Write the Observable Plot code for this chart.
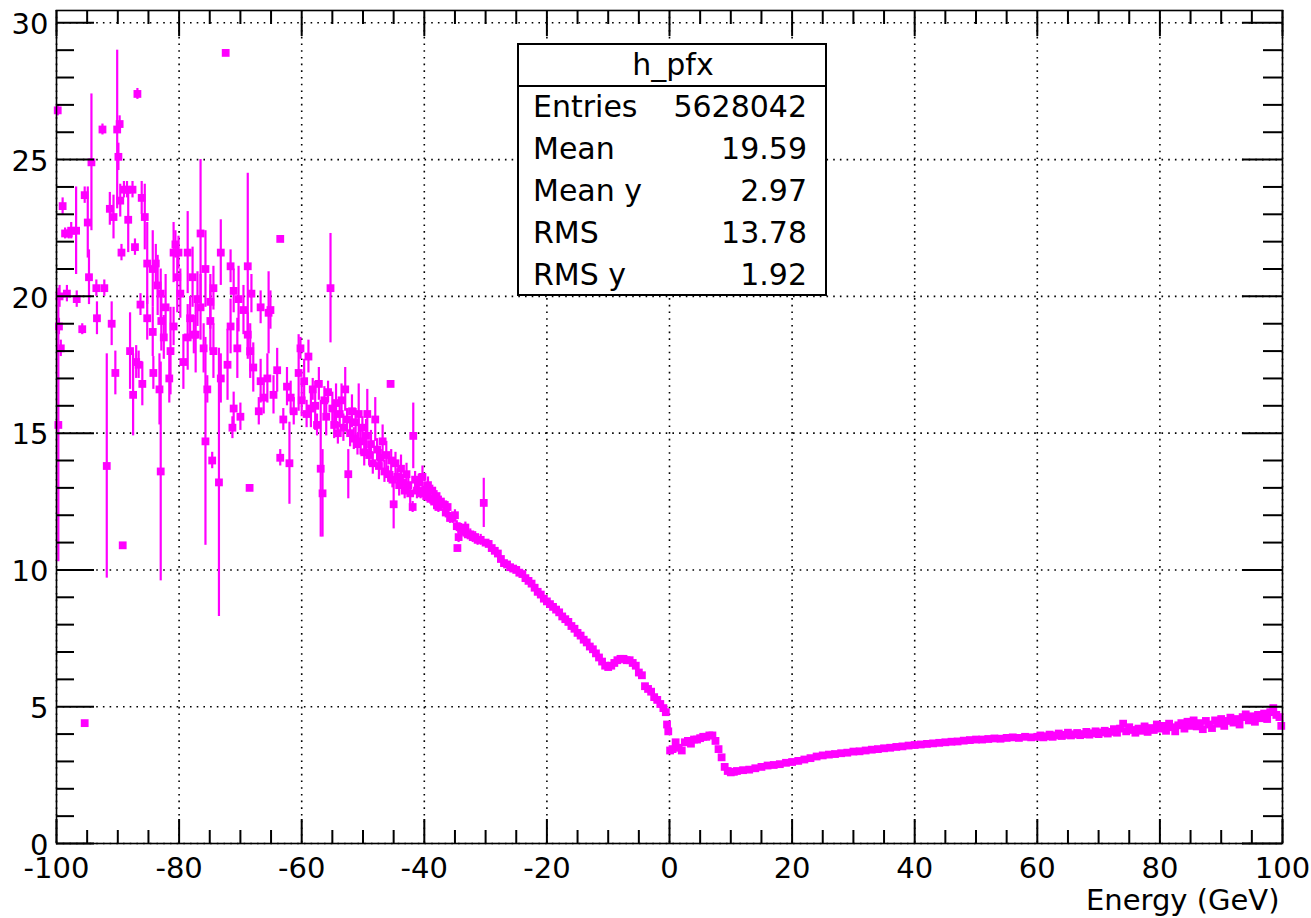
<!DOCTYPE html>
<html><head><meta charset="utf-8">
<script src="https://cdn.jsdelivr.net/npm/d3@7"></script>
<script src="https://cdn.jsdelivr.net/npm/@observablehq/plot@0.6"></script>
<style>
html,body{margin:0;padding:0;background:#fff;}
#chart{position:relative;width:1311px;height:918px;}
</style></head><body><div id="chart"></div>
<script>
// ---- profile bins with large spread (E, mean y, error) ----
const noisyE = [
 -99.8,-99.7,-99.6,-99.5,-99.3,-99.0,-98.6,-98.3,-98.0,-97.6,
 -96.8,-96.7,-95.8,-95.4,-95.4,-94.9,-94.7,-94.3,-93.5,-93.4,
 -92.5,-92.2,-91.8,-91.3,-91.0,-90.7,-90.4,-90.1,-89.9,-89.7,
 -89.6,-89.4,-89.2,-89.0,-88.5,-88.3,-88.0,-87.6,-87.5,-87.2,
 -87.0,-86.8,-86.6,-86.3,-86.1,-86.0,-85.6,-85.2,-85.2,-84.3,
 -84.3,-84.2,-83.8,-83.5,-83.2,-83.0,-83.0,-82.9,-82.5,-82.2,
 -81.6,-81.4,-80.9,-80.9,-80.6,-80.3,-80.1,-79.8,-79.3,-78.6,
 -78.6,-78.2,-77.8,-77.6,-77.3,-77.0,-76.5,-76.5,-76.0,-75.7,
 -75.7,-75.4,-74.9,-74.9,-74.6,-74.4,-74.4,-73.5,-73.2,-73.2,
 -72.4,-72.1,-71.6,-71.6,-71.3,-71.1,-71.1,-70.5,-70.3,-70.0,
 -69.5,-68.8,-68.8,-68.5,-68.4,-68.2,-67.9,-67.0,-66.7,-66.7,
 -66.2,-65.6,-65.4,-65.1,-64.6,-64.0,-63.5,-63.5,-63.0,-62.4,
 -62.0,-61.8,-61.3,-60.5,-60.2,-60.0,
 -59.6,-59.2,-58.9,-58.5,-58.2,-57.8,-57.5,-57.2,-56.9,-56.6,
 -56.3,-56.0,-55.7,-55.3,-55.0,-54.7,-54.4,-54.1,-53.8,-53.5,
 -53.2,-52.9,-52.6,-52.4,-52.1,-51.8,-51.5,-51.2,-50.9,-50.7,
 -50.4,-50.1,-49.8,-49.5,-49.3,-49.0,-48.7,-48.4,-48.0,-47.7,
 -47.4,-47.1,-46.8,-46.5,-46.2,-45.9,-45.5,-45.4,-45.2,-45.0,
 -44.7,-44.4,-44.1,-43.8,-43.5,-43.2,-42.9,-42.6,-42.3,-41.9,
 -41.8,-41.5,-41.2,-40.9,-40.6,-40.3,-40.0,-39.7,-39.4,-39.0,
 -38.7,-38.4,-38.0,-37.7,-37.3,-36.9,-36.5,-36.2,-35.8,-35.4,
 -35.0,-34.7,-34.6,-34.4,-34.0,-33.6,-33.3,-32.9,-32.5,-32.1,
 -31.7,-31.3,-30.8,-30.3,-30.0
];
const noisyY = [
 26.8,15.3,18.9,20.0,18.1,23.3,22.3,20.1,22.3,22.4,
 22.4,19.9,18.8,23.7,4.4,22.7,20.7,24.9,20.3,19.2,
 26.1,20.3,13.8,23.2,19.0,22.9,17.2,26.1,25.1,26.3,
 23.5,21.6,10.9,23.9,23.9,22.8,18.0,23.9,16.4,21.8,
 17.6,27.4,17.5,19.7,23.6,16.8,22.9,21.2,19.2,21.0,
 18.7,17.2,21.2,20.4,16.6,13.6,20.1,19.1,18.5,19.6,
 17.0,18.0,21.6,18.9,21.9,20.7,21.6,20.1,17.6,21.6,
 18.5,19.2,20.7,18.6,18.6,19.9,22.3,19.6,18.1,21.0,
 14.7,16.6,19.8,19.1,14.0,20.3,18.0,13.2,21.6,17.0,
 28.9,17.5,21.1,18.9,15.2,20.2,15.9,18.1,19.9,15.6,
 19.5,21.1,18.6,13.0,18.0,20.1,17.4,15.8,19.6,16.9,
 16.3,17.0,19.4,19.5,16.4,17.3,22.1,14.1,15.5,16.7,
 13.9,16.3,15.8,17.2,18.1,16.2,
 16.9,15.7,17.8,15.9,16.6,16.0,15.3,16.8,13.7,12.8,
 16.2,15.6,16.5,20.3,15.9,15.3,16.1,15.0,15.7,16.2,
 15.2,16.6,15.5,13.5,15.0,15.8,14.8,15.4,14.6,15.7,
 14.7,15.2,14.3,14.9,15.7,14.2,14.6,13.9,15.5,14.4,
 13.8,14.1,14.7,13.6,14.2,13.5,16.8,14.0,13.3,12.4,
 13.9,13.4,13.1,13.7,13.2,12.9,13.5,13.1,12.8,12.3,
 14.9,13.3,12.9,13.2,12.8,13.4,12.9,12.7,13.1,12.6,
 12.9,12.5,12.7,12.3,12.5,12.4,12.1,12.3,11.9,11.9,
 12.0,11.6,10.8,11.2,11.5,11.4,11.55,11.3,11.3,11.2,
 11.2,11.1,11.1,12.45,11.0
];
const noisyErr = [
 0.2,5.0,0.3,0.4,0.3,0.3,0.2,0.3,0.2,0.3,
 1.6,0.3,0.2,0.3,0.1,1.3,1.0,2.5,0.3,0.6,
 0.2,0.3,4.1,0.6,0.8,0.8,0.8,2.9,0.5,0.3,
 0.6,0.3,0.1,0.3,0.3,1.2,1.4,0.3,1.5,0.3,
 0.6,0.2,0.5,0.4,0.6,0.8,1.2,1.5,0.8,1.4,
 0.9,0.6,0.7,1.1,1.3,4.0,0.9,1.1,0.8,1.2,
 0.9,1.6,1.1,0.7,0.5,1.3,0.6,0.9,1.0,1.5,
 1.2,0.8,1.1,0.7,1.4,1.0,2.7,1.2,0.9,1.4,
 3.8,0.5,1.0,1.1,0.3,0.8,1.0,4.9,1.2,0.9,
 0.1,1.3,0.6,1.0,0.4,0.8,0.6,1.1,1.2,0.5,
 0.9,3.4,0.8,0.1,1.0,0.7,0.9,0.5,0.6,0.8,
 0.6,0.9,1.5,0.7,0.7,0.8,0.1,0.3,0.4,0.7,
 1.5,0.6,0.5,1.4,0.4,0.6,
 0.8,0.5,0.6,0.7,0.4,0.9,0.4,0.6,2.5,1.6,
 0.5,0.7,0.4,2.0,0.6,0.5,0.7,0.4,0.5,0.6,
 0.5,0.8,0.4,0.9,0.5,0.6,0.4,0.5,0.4,1.1,
 0.5,0.4,0.5,0.6,0.9,0.4,0.5,0.4,0.8,0.4,
 0.5,0.3,0.6,0.4,0.5,0.3,0.1,0.4,0.3,0.9,
 0.4,0.3,0.4,0.5,0.3,0.3,0.4,0.3,0.4,0.2,
 1.2,0.3,0.3,0.3,0.2,0.4,0.3,0.2,0.3,0.2,
 0.2,0.3,0.2,0.2,0.2,0.2,0.2,0.2,0.2,0.2,
 0.2,0.2,0.1,0.2,0.2,0.2,0.2,0.2,0.2,0.2,
 0.2,0.2,0.2,0.9,0.1
];
// ---- profile bins with negligible errors ----
const smoothE = [
 -29.5,-29.0,-28.5,-28.0,-27.5,-27.0,-26.5,-26.0,-25.5,-25.0,
 -24.5,-24.0,-23.5,-23.0,-22.5,-22.0,-21.5,-21.0,-20.5,-20.0,
 -19.5,-19.0,-18.5,-18.0,-17.5,-17.0,-16.5,-16.0,-15.5,-15.0,
 -14.5,-14.0,-13.5,-13.0,-12.5,-12.0,-11.5,-11.0,-10.5,-10.0,
 -9.5,-9.0,-8.5,-8.0,-7.5,-7.0,-6.5,-6.0,-5.5,-5.0,
 -4.5,-4.0,-3.5,-3.0,-2.5,-2.0,-1.5,-1.0,-0.6,-0.4,
 -0.2,0.1,0.5,1.0,1.5,2.0,2.5,3.0,3.5,4.0,
 4.5,5.0,5.5,6.0,6.5,7.0,7.5,8.0,8.5,9.0,
 9.5,10.0,10.5,11,12,13,14,15,16,17,
 18,19,20,21,22,23,24,25,26,27,
 28,29,30,31,32,33,34,35,36,37,
 38,39,40,41,42,43,44,45,46,47,
 48,49,50,51,52,53,54,55,56,57,
 58,59,60,60.5,61,61.5,62,62.5,63,63.5,
 64,64.5,65,65.5,66,66.5,67,67.5,68,68.5,
 69,69.5,70,70.5,71,71.5,72,72.5,73,73.5,
 74,74.5,75,75.5,76,76.5,77,77.5,78,78.5,
 79,79.5,80,80.5,81,81.5,82,82.5,83,83.5,
 84,84.5,85,85.5,86,86.5,87,87.5,88,88.5,
 89,89.5,90,90.5,91,91.5,92,92.5,93,93.5,
 94,94.5,95,95.5,96,96.5,97,97.5,98,98.5,
 99,99.5,99.8
];
const smoothY = [
 10.95,10.8,10.7,10.6,10.4,10.25,10.2,10.1,10.05,10.0,
 9.9,9.85,9.7,9.6,9.5,9.35,9.2,9.1,8.95,8.85,
 8.75,8.65,8.55,8.45,8.3,8.2,8.1,7.95,7.85,7.7,
 7.6,7.45,7.35,7.2,7.1,6.95,6.8,6.65,6.5,6.45,
 6.5,6.6,6.7,6.75,6.75,6.7,6.7,6.6,6.5,6.25,
 6.15,5.75,5.65,5.55,5.35,5.25,5.1,4.95,4.8,4.35,
 4.1,3.4,3.45,3.7,3.5,3.4,3.7,3.75,3.65,3.8,
 3.8,3.85,3.9,3.9,3.95,3.95,3.75,3.45,3.15,2.8,
 2.65,2.6,2.62,2.65,2.68,2.7,2.75,2.8,2.85,2.87,
 2.9,2.95,2.98,3.02,3.07,3.12,3.18,3.22,3.25,3.27,
 3.3,3.32,3.36,3.37,3.4,3.43,3.45,3.48,3.5,3.53,
 3.55,3.58,3.6,3.62,3.64,3.66,3.68,3.7,3.72,3.73,
 3.76,3.78,3.8,3.8,3.82,3.84,3.83,3.86,3.88,3.86,
 3.9,3.88,3.9,3.95,3.88,3.92,3.98,3.9,3.95,4.02,
 3.93,3.97,4.05,3.95,3.99,4.04,3.96,4.0,4.08,3.98,
 4.03,4.1,4.0,4.06,4.12,4.02,4.08,4.18,4.05,4.2,
 4.38,4.1,4.25,4.15,4.05,4.2,4.12,4.28,4.08,4.22,
 4.15,4.35,4.2,4.3,4.12,4.38,4.25,4.1,4.32,4.4,
 4.2,4.45,4.3,4.5,4.28,4.4,4.18,4.48,4.35,4.22,
 4.5,4.38,4.55,4.3,4.48,4.6,4.42,4.55,4.35,4.62,
 4.72,4.5,4.65,4.45,4.7,4.58,4.75,4.55,4.8,4.95,
 4.7,4.62,4.3
];
// ---- axes ----
const xMajor = [-100,-80,-60,-40,-20,0,20,40,60,80,100];
const xMinor = [-95,-90,-85,-75,-70,-65,-55,-50,-45,-35,-30,-25,-15,-10,-5,5,10,15,25,30,35,45,50,55,65,70,75,85,90,95];
const yMajor = [0,5,10,15,20,25,30];
const yMinor = [1,2,3,4,6,7,8,9,11,12,13,14,16,17,18,19,21,22,23,24,26,27,28,29];
const xTitle = "Energy (GeV)";
// ---- statistics box ----
const statTitle = "h_pfx";
const statLabels = ["Entries","Mean","Mean y","RMS","RMS y"];
const statValues = ["5628042","19.59","2.97","13.78","1.92"];

const W = 1311, H = 918, mL = 56, mR = 29, mT = 10, mB = 75;
const plotW = W - mL - mR, plotH = H - mT - mB;
const magenta = "#ff00ff";
const font = "'DejaVu Sans', 'Liberation Sans', sans-serif";

const noisy = noisyE.map((e, i) => ({e, y: noisyY[i], err: noisyErr[i]}));
const smooth = smoothE.map((e, i) => ({e, y: smoothY[i]}));
const allPts = noisy.concat(smooth);

const grid = {stroke: "black", strokeOpacity: 1, strokeWidth: 1.6, strokeDasharray: "1.6,5.1"};

const svg = Plot.plot({
  width: W, height: H,
  marginLeft: mL, marginRight: mR, marginTop: mT, marginBottom: mB,
  style: {fontFamily: font, background: "white", color: "black", overflow: "visible"},
  x: {domain: [-100, 100]},
  y: {domain: [0, 30.45]},
  marks: [
    Plot.gridX(xMajor, grid),
    Plot.gridY(yMajor, grid),
    Plot.ruleX(noisy.filter(d => d.err > 0), {x: "e", y1: d => d.y - d.err, y2: d => d.y + d.err, stroke: magenta, strokeWidth: 2.2}),
    Plot.dot(allPts, {x: "e", y: "y", symbol: "square", r: 4.4, fill: magenta, stroke: "none"}),
    // inward ticks, bottom / top
    Plot.tickX(xMajor, {x: d => d, insetTop: plotH - 24, stroke: "black", strokeWidth: 2}),
    Plot.tickX(xMinor, {x: d => d, insetTop: plotH - 13, stroke: "black", strokeWidth: 2}),
    Plot.tickX(xMajor, {x: d => d, insetBottom: plotH - 26, stroke: "black", strokeWidth: 2}),
    Plot.tickX(xMinor, {x: d => d, insetBottom: plotH - 14, stroke: "black", strokeWidth: 2}),
    // inward ticks, left / right
    Plot.tickY(yMajor, {y: d => d, insetRight: plotW - 38, stroke: "black", strokeWidth: 2}),
    Plot.tickY(yMinor, {y: d => d, insetRight: plotW - 18, stroke: "black", strokeWidth: 2}),
    Plot.tickY(yMajor, {y: d => d, insetLeft: plotW - 40, stroke: "black", strokeWidth: 2}),
    Plot.tickY(yMinor, {y: d => d, insetLeft: plotW - 19, stroke: "black", strokeWidth: 2}),
    Plot.frame({stroke: "black", strokeWidth: 1.6}),
    Plot.axisX({ticks: xMajor, tickSize: 0, tickPadding: 14, fontSize: 29, tickFormat: d => String(d), label: null}),
    Plot.axisY({ticks: yMajor, tickSize: 0, tickPadding: 8, fontSize: 29, dy: 2, tickFormat: d => String(d), label: null}),
    Plot.text([xTitle], {frameAnchor: "bottom-right", dx: -3, dy: 66, textAnchor: "end", fontSize: 29, fill: "black"})
  ]
});
document.getElementById("chart").appendChild(svg);

// statistics box (legend-like annotation in pad coordinates)
const box = {x: 518, y: 44, w: 308, h: 251, sep: 86};
const g = d3.select(svg).append("g").attr("font-family", font).attr("fill", "black");
g.append("rect").attr("x", box.x).attr("y", box.y).attr("width", box.w).attr("height", box.h)
  .attr("fill", "white").attr("stroke", "black").attr("stroke-width", 2);
g.append("line").attr("x1", box.x).attr("x2", box.x + box.w).attr("y1", box.sep).attr("y2", box.sep)
  .attr("stroke", "black").attr("stroke-width", 2);
g.append("text").attr("x", box.x + box.w / 2 + 1).attr("y", 75).attr("text-anchor", "middle")
  .attr("font-size", 30).text(statTitle);
const rowH = (box.y + box.h - box.sep) / statLabels.length;
statLabels.forEach((lab, i) => {
  const yb = box.sep + rowH * (i + 0.5) + 10.5;
  g.append("text").attr("x", 533).attr("y", yb).attr("text-anchor", "start").attr("font-size", 30).text(lab);
  g.append("text").attr("x", 807).attr("y", yb).attr("text-anchor", "end").attr("font-size", 30).text(statValues[i]);
});
</script>
</body></html>
